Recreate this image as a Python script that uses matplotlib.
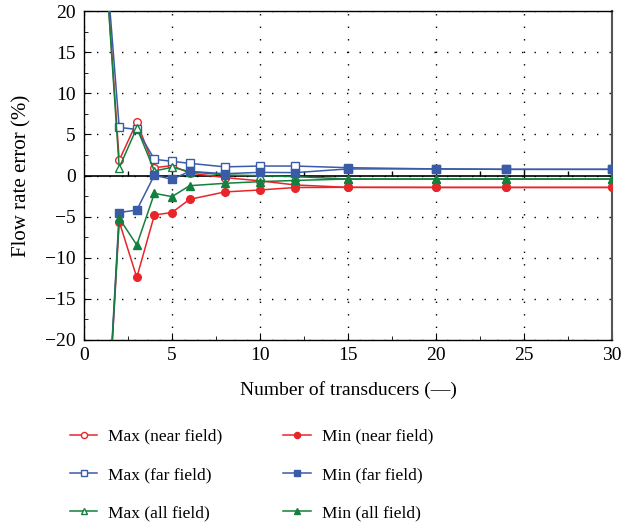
import numpy as np
import matplotlib
matplotlib.use("Agg")
import matplotlib.pyplot as plt
from matplotlib.ticker import MultipleLocator

plt.rcParams["font.family"] = ["Liberation Serif", "DejaVu Serif"]

# number of transducers
n_trans = [1, 2, 3, 4, 5, 6, 8, 10, 12, 15, 20, 24, 30]

# flow rate error (%)
max_near = [33, 1.85, 6.5, 0.95, 1.2, 0.3, -0.25, -0.65, -1.15, -1.44, -1.45, -1.45, -1.45]
min_near = [-43, -5.6, -12.4, -4.8, -4.5, -2.9, -2.0, -1.76, -1.46, -1.44, -1.45, -1.45, -1.45]
max_far = [33, 5.85, 5.6, 1.97, 1.72, 1.48, 1.05, 1.15, 1.15, 0.95, 0.8, 0.75, 0.75]
min_far = [-43, -4.5, -4.2, 0.05, -0.47, 0.5, 0.22, 0.38, 0.35, 0.8, 0.8, 0.75, 0.75]
max_all = [33, 0.95, 5.8, 0.55, 1.0, 0.47, 0.06, -0.02, -0.14, -0.43, -0.43, -0.43, -0.43]
min_all = [-43, -5.2, -8.45, -2.17, -2.57, -1.24, -0.95, -0.75, -0.6, -0.43, -0.43, -0.43, -0.43]

RED = "#e8262a"
BLUE = "#3a5ba8"
GREEN = "#13803e"

fig = plt.figure(figsize=(6.35, 5.29), dpi=100)
ax = fig.add_axes([84 / 635, 1 - 340 / 529, 528 / 635, 329 / 529])

ms = 5.5
ax.plot(n_trans, max_near, color=RED, lw=1.1, marker="o", mfc="white", mec=RED, ms=ms, label="Max (near field)", zorder=3)
ax.plot(n_trans, max_far, color=BLUE, lw=1.1, marker="s", mfc="white", mec=BLUE, ms=ms, label="Max (far field)", zorder=3)
ax.plot(n_trans, max_all, color=GREEN, lw=1.1, marker="^", mfc="white", mec=GREEN, ms=ms, label="Max (all field)", zorder=3)
ax.plot(n_trans, min_near, color=RED, lw=1.1, marker="o", mfc=RED, mec=RED, ms=ms, label="Min (near field)", zorder=4)
ax.plot(n_trans, min_far, color=BLUE, lw=1.1, marker="s", mfc=BLUE, mec=BLUE, ms=ms, label="Min (far field)", zorder=4)
ax.plot(n_trans, min_all, color=GREEN, lw=1.1, marker="^", mfc=GREEN, mec=GREEN, ms=ms, label="Min (all field)", zorder=4)

# zero line with small tick marks
ax.axhline(0, color="black", lw=1.2, zorder=2)
ax.plot(np.arange(5, 30, 5), np.zeros(5), ls="none", marker=2, ms=5, mew=1.0, color="black", zorder=2)
ax.plot(np.arange(2.5, 30, 5), np.zeros(6), ls="none", marker=2, ms=3.5, mew=1.0, color="black", zorder=2)

ax.set_xlim(0, 30)
ax.set_ylim(-20, 20)
ax.xaxis.set_major_locator(MultipleLocator(5))
ax.xaxis.set_minor_locator(MultipleLocator(2.5))
ax.yaxis.set_major_locator(MultipleLocator(5))
ax.yaxis.set_minor_locator(MultipleLocator(2.5))
ax.tick_params(which="both", direction="in", top=False, right=False, labelsize=14)
ax.tick_params(axis="x", which="major", length=5, pad=5)
ax.tick_params(axis="y", which="major", length=5, pad=6)
ax.tick_params(which="minor", length=3)
ax.grid(True, which="major", ls=(0, (1, 8)), color="black", lw=1.0)
for s in ax.spines.values():
    s.set_linewidth(1.0)
ax.spines["right"].set_color("#555555")
ax.spines["right"].set_linewidth(1.5)

ax.set_xlabel("Number of transducers (\u2014)", fontsize=14, labelpad=12)
ax.set_ylabel("Flow rate error (%)", fontsize=15, labelpad=10)

fig.legend(loc="upper left", bbox_to_anchor=(54 / 635, 1 - 413 / 529), ncol=2,
           frameon=False, fontsize=12.5, handlelength=1.6, markerscale=0.8,
           labelspacing=1.27, columnspacing=3.5, handletextpad=0.63)

fig.savefig("out.png", dpi=100)
